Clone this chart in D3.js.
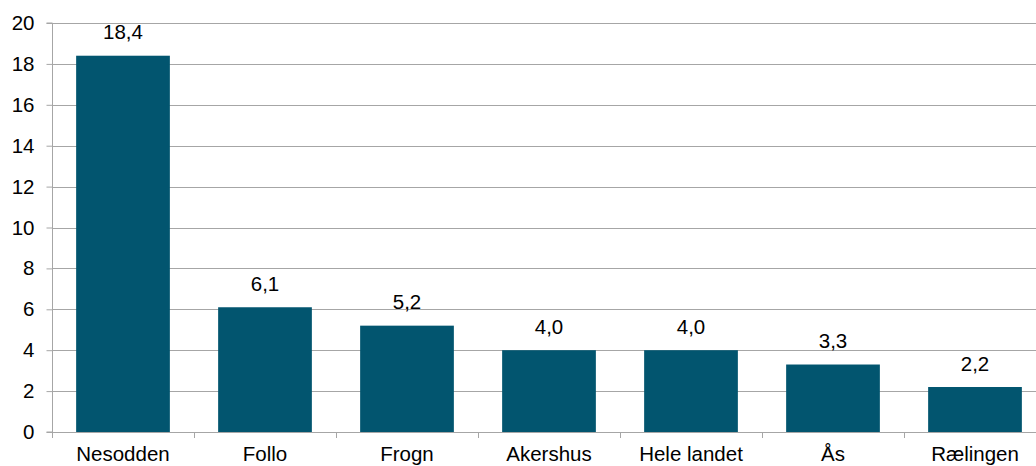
<!DOCTYPE html>
<html><head><meta charset="utf-8">
<script src="https://cdn.jsdelivr.net/npm/d3@7"></script>
<style>body{margin:0;background:#fff;}svg{display:block;font-family:"Liberation Sans",Arial,sans-serif;}</style>
</head><body>
<svg id="c" width="1036" height="466"></svg>
<script>
const categories = ["Nesodden","Follo","Frogn","Akershus","Hele landet","Ås","Rælingen"];
const values = [18.4, 6.1, 5.2, 4.0, 4.0, 3.3, 2.2];
const yTicks = [0,2,4,6,8,10,12,14,16,18,20];

const svg = d3.select("#c");
const x0 = 52, x1 = 1046, yTop = 23, yBot = 432;
const FS = 20.5;
const x = d3.scaleBand().domain(categories).range([x0, x1]).paddingInner(0.34).paddingOuter(0.17);
const y = d3.scaleLinear().domain([0,20]).range([yBot, yTop]);
const fmt = v => d3.format(".1f")(v).replace(".", ",");

// gridlines
svg.append("g").selectAll("line").data(yTicks.filter(d=>d>0)).join("line")
  .attr("x1", x0).attr("x2", 1036).attr("y1", d=>Math.round(y(d))+0.5).attr("y2", d=>Math.round(y(d))+0.5)
  .attr("stroke", "#a6a6a6").attr("stroke-width", 1);

// bars
svg.append("g").selectAll("rect").data(values).join("rect")
  .attr("x", (d,i)=>x(categories[i])).attr("width", x.bandwidth())
  .attr("y", d=>y(d)).attr("height", d=>yBot - y(d))
  .attr("fill", "#02556f");

// value labels
svg.append("g").selectAll("text").data(values).join("text")
  .attr("x", (d,i)=>x(categories[i]) + x.bandwidth()/2)
  .attr("y", d=>y(d) - 16.5)
  .attr("text-anchor","middle").attr("font-size", FS).attr("fill","#000")
  .text(d=>fmt(d));

// y axis
const yAxis = d3.axisLeft(y).tickValues(yTicks).tickSize(6).tickPadding(12).tickFormat(d=>d);
const gy = svg.append("g").attr("transform", `translate(${x0+0.5},0)`).call(yAxis);
gy.selectAll("path,line").attr("stroke","#a6a6a6");
gy.select(".domain").attr("d", `M-6,${y(20)}H0V${yBot}H-6`);
gy.selectAll("text").attr("font-size", FS).attr("fill","#000").attr("font-family","Liberation Sans, Arial, sans-serif");

// x axis
const bandStep = x.step();
const xTickPos = d3.range(categories.length+1).map(i => x0 + i*bandStep);
const gx = svg.append("g");
gx.append("line").attr("x1", x0).attr("x2", 1036).attr("y1", yBot+0.5).attr("y2", yBot+0.5).attr("stroke","#a6a6a6");
gx.selectAll("line.t").data(xTickPos).join("line").attr("class","t")
  .attr("x1", d=>Math.round(d)+0.5).attr("x2", d=>Math.round(d)+0.5).attr("y1", yBot).attr("y2", yBot+6)
  .attr("stroke","#a6a6a6");
gx.selectAll("text").data(categories).join("text")
  .attr("x", d=>x(d)+x.bandwidth()/2).attr("y", 461)
  .attr("text-anchor","middle").attr("font-size",FS).attr("fill","#000")
  .text(d=>d);
</script>
</body></html>
